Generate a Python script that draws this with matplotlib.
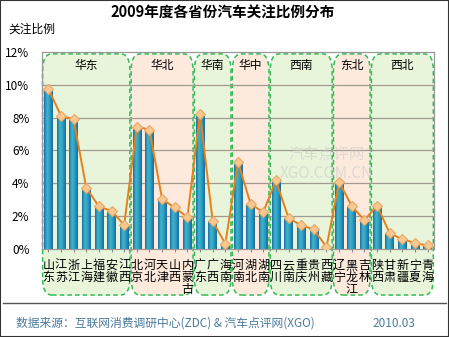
import numpy as np
import matplotlib.pyplot as plt
from matplotlib.patches import FancyBboxPatch, Rectangle
from matplotlib.colors import LinearSegmentedColormap

plt.rcParams['font.family'] = ['Noto Sans CJK SC', 'DejaVu Sans']

provinces = ['山东', '江苏', '浙江', '上海', '福建', '安徽', '江西',
             '北京', '河北', '天津', '山西', '内蒙古',
             '广东', '广西', '海南',
             '河南', '湖北', '湖南',
             '四川', '云南', '重庆', '贵州', '西藏',
             '辽宁', '黑龙江', '吉林',
             '陕西', '甘肃', '新疆', '宁夏', '青海']
values = [9.76, 8.12, 7.90, 3.74, 2.59, 2.32, 1.47,
          7.45, 7.27, 3.03, 2.53, 1.94,
          8.24, 1.70, 0.32,
          5.29, 2.75, 2.24,
          4.18, 1.88, 1.45, 1.19, 0.12,
          4.08, 2.61, 1.76,
          2.65, 0.95, 0.61, 0.36, 0.22]
regions = ['华东', '华北', '华南', '华中', '西南', '东北', '西北']
region_sizes = [7, 5, 3, 3, 5, 3, 5]
yticks = [0, 2, 4, 6, 8, 10, 12]

fig = plt.figure(figsize=(4.49, 3.37), dpi=100)
ax = fig.add_axes([0.0935, 0.261, 0.873, 0.585])
x = np.arange(len(provinces))
ax.set_xlim(-0.5, len(provinces) - 0.5)
ax.set_ylim(0, 12)

# region boxes (green / peach alternating)
start = 0
for k, (name, n) in enumerate(zip(regions, region_sizes)):
    fc = '#e8f5da' if k % 2 == 0 else '#fdeadc'
    box = FancyBboxPatch((start - 0.45, -2.8), n - 0.1, 14.68,
                         boxstyle='round,pad=0,rounding_size=0.75',
                         mutation_aspect=1.3,
                         facecolor=fc, edgecolor='#33bb55', linestyle=(0, (3, 2)),
                         linewidth=1.1, clip_on=False, zorder=0)
    ax.add_patch(box)
    ax.text(start + (n - 1) / 2, 11.2, name, ha='center', va='center', fontsize=8.5, zorder=5)
    start += n

for yv in yticks[1:-1]:
    ax.axhline(yv, color='#a09a90', linewidth=0.9, zorder=1)

# cylinder bars
cmap = LinearSegmentedColormap.from_list('cyl', ['#1d6fa8', '#3fb6cc', '#2a9cc0', '#1a6aa0'])
grad = np.linspace(0, 1, 32).reshape(1, -1)
w = 0.68
bars = ax.bar(x, values, width=w, color='none', edgecolor='none', zorder=2)
for b in bars:
    im = ax.imshow(grad, cmap=cmap, aspect='auto', zorder=2,
                   extent=[b.get_x(), b.get_x() + w, 0, b.get_height()])
    im.set_clip_path(b)

ax.plot(x, values, color='#e8801a', linewidth=1.4, zorder=3)
ax.plot(x, values, linestyle='none', marker='D', markersize=5.5,
        markerfacecolor='#f8c890', markeredgecolor='#e8a868', markeredgewidth=0.8, zorder=4)

ax.set_yticks(yticks)
ax.set_yticklabels([f'{v}%' for v in yticks], fontsize=8.5)
ax.set_xticks(x)
ax.set_xticklabels(['\n'.join(p) for p in provinces], fontsize=8.7, linespacing=0.92, va='top')
ax.tick_params(axis='x', length=2, color='#888888', pad=5)
ax.tick_params(axis='y', length=0, pad=9)
for s in ax.spines.values():
    s.set_color('#999999')
    s.set_linewidth(0.9)
ax.set_facecolor('none')

fig.text(0.495, 0.962, '2009年度各省份汽车关注比例分布', ha='center', va='center',
         fontsize=10.5, fontweight='bold')
fig.text(0.018, 0.915, '关注比例', ha='left', va='center', fontsize=8.5)

# watermark
ax.text(22.0, 5.2, '汽车点评网\nXGO.COM.CN', ha='center', va='center', fontsize=11,
        color='#cccccc', alpha=0.6, zorder=1)

fig.add_artist(plt.Line2D([0.007, 0.993], [0.101, 0.101], color='#555555', linewidth=1.0))
fig.text(0.035, 0.04, '数据来源：互联网消费调研中心(ZDC) & 汽车点评网(XGO)', ha='left', va='center',
         fontsize=8.5, color='#4a7a9c')
fig.text(0.83, 0.04, '2010.03', ha='left', va='center', fontsize=8.5, color='#4a7a9c')
fig.add_artist(Rectangle((0, 0), 1, 1, transform=fig.transFigure, fill=False,
                         edgecolor='#333333', linewidth=1.5))

fig.savefig('out.png', dpi=100)
